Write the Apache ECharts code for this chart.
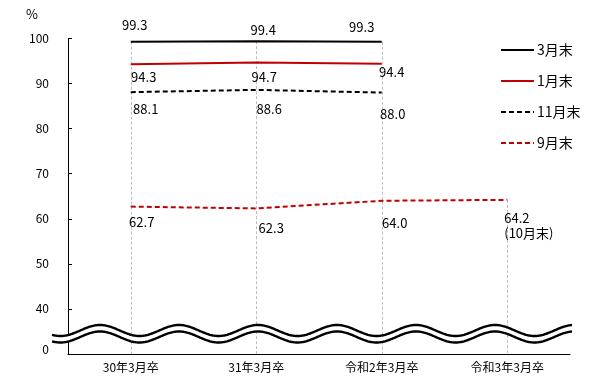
<!DOCTYPE html>
<html>
<head>
<meta charset="utf-8">
<script src="https://cdn.jsdelivr.net/npm/echarts@6/dist/echarts.min.js"></script>
<style>html,body{margin:0;padding:0;background:#fff}#c{width:605px;height:376px}</style>
</head>
<body>
<div id="c"></div>
<script>
// ---- data ----
const categories = ['30年3月卒', '31年3月卒', '令和2年3月卒', '令和3年3月卒'];
const seriesNames = ['3月末', '1月末', '11月末', '9月末'];
const march = [99.3, 99.4, 99.3];
const january = [94.3, 94.7, 94.4];
const november = [88.1, 88.6, 88.0];
const september = [62.7, 62.3, 64.0, 64.2];
const septemberNote = ['', '', '', '(10月末)'];
const yMin = 30, yMax = 100, yStep = 10;
const yBottomLabel = '0';

// ---- layout / style config ----
const FONT = '"Noto Sans CJK JP", "Noto Sans", sans-serif';
const RED = '#c00000';
const labelOffsets = [
  [[4, -17], [7, -11], [-20, -15]],
  [[13, 12.5], [8, 15], [10, 8]],
  [[15, 17], [13, 19], [11, 21]],
  [[11, 15], [15, 20], [13, 22], [-3, 26]]
];
const styles = [
  { color: '#000', type: 'solid' },
  { color: RED, type: 'solid' },
  { color: '#000', type: [5, 3] },
  { color: RED, type: [5, 3] }
];
const allValues = [march, january, november, september];

function buildData(vals, si) {
  return vals.map((v, i) => {
    const note = si === 3 ? septemberNote[i] : '';
    const item = {
      value: v,
      label: { offset: labelOffsets[si][i] }
    };
    if (note) {
      item.label.align = 'left';
      item.label.formatter = v.toFixed(1) + '\n' + note;
      item.label.lineHeight = 15;
    }
    return item;
  });
}

const tops = categories.map((c, i) => {
  const vs = allValues.map(a => a[i]).filter(v => v != null);
  return Math.max.apply(null, vs);
});

const series = allValues.map((vals, si) => ({
  name: seriesNames[si],
  type: 'line',
  data: buildData(vals, si),
  symbol: 'circle',
  symbolSize: 1,
  itemStyle: { color: 'rgba(0,0,0,0)' },
  lineStyle: { color: styles[si].color, type: styles[si].type, width: 2 },
  z: 5,
  label: {
    show: true,
    position: 'inside',
    color: '#000',
    fontSize: 13,
    fontFamily: FONT,
    formatter: p => p.value.toFixed(1)
  },
  emphasis: { disabled: true },
  silent: true
}));

series.push({
  name: 'drop',
  type: 'line',
  data: [],
  silent: true,
  z: 1,
  markLine: {
    silent: true,
    symbol: ['none', 'none'],
    label: { show: false },
    lineStyle: { color: '#bdbdbd', type: [3, 2], width: 1 },
    emphasis: { disabled: true },
    data: tops.map((t, i) => [{ coord: [categories[i], t] }, { coord: [categories[i], yMin] }])
  }
});

const chart = echarts.init(document.getElementById('c'), null, { renderer: 'canvas' });

// wave break decoration
function wavePts(x0, x1, cy, amp, period, peakX) {
  const pts = [];
  for (let x = x0; x <= x1; x += 1) {
    pts.push([x, cy - amp * Math.cos(2 * Math.PI * (x - peakX) / period)]);
  }
  return pts;
}
const topWave = wavePts(52, 572, 330.5, 5.5, 79, 100);
const botWave = wavePts(52, 572, 337, 5.5, 79, 100);
const fillPts = topWave.concat(botWave.slice().reverse());

chart.setOption({
  animation: false,
  backgroundColor: '#fff',
  textStyle: { fontFamily: FONT },
  title: {
    text: '%',
    left: 21, top: 3,
    textStyle: { fontSize: 13, fontWeight: 'normal', color: '#000', fontFamily: FONT }
  },
  legend: {
    orient: 'vertical',
    left: 500, top: 43,
    padding: 0,
    itemWidth: 33, itemHeight: 14, itemGap: 17,
    data: seriesNames,
    textStyle: { fontSize: 14, color: '#000', fontFamily: FONT, padding: [0, 0, 0, -2] },
    selectedMode: false
  },
  grid: { left: 68, right: 35, top: 38.5, bottom: 22 },
  xAxis: {
    type: 'category',
    data: categories,
    boundaryGap: true,
    axisLine: { lineStyle: { color: '#000', width: 1 } },
    axisTick: { show: false },
    axisLabel: { color: '#000', fontSize: 12, margin: 7, fontFamily: FONT }
  },
  yAxis: {
    type: 'value',
    min: yMin, max: yMax, interval: yStep,
    axisLine: { show: true, lineStyle: { color: '#000', width: 1 } },
    axisTick: { show: true, inside: true, length: 4, lineStyle: { color: '#000' } },
    splitLine: { show: false },
    axisLabel: {
      color: '#000', fontSize: 12, margin: 19, fontFamily: FONT,
      formatter: v => v === yMin ? '{z|' + yBottomLabel + '}' : String(v),
      rich: { z: { fontSize: 12, color: '#000', fontFamily: FONT, padding: [0, 0, 10, 0] } }
    }
  },
  series: series,
  graphic: [
    { type: 'polygon', shape: { points: fillPts }, style: { fill: '#fff' }, z: 100, silent: true },
    { type: 'polyline', shape: { points: topWave }, style: { stroke: '#000', lineWidth: 2.4, fill: null }, z: 101, silent: true },
    { type: 'polyline', shape: { points: botWave }, style: { stroke: '#000', lineWidth: 2.4, fill: null }, z: 101, silent: true }
  ]
});
</script>
</body>
</html>
